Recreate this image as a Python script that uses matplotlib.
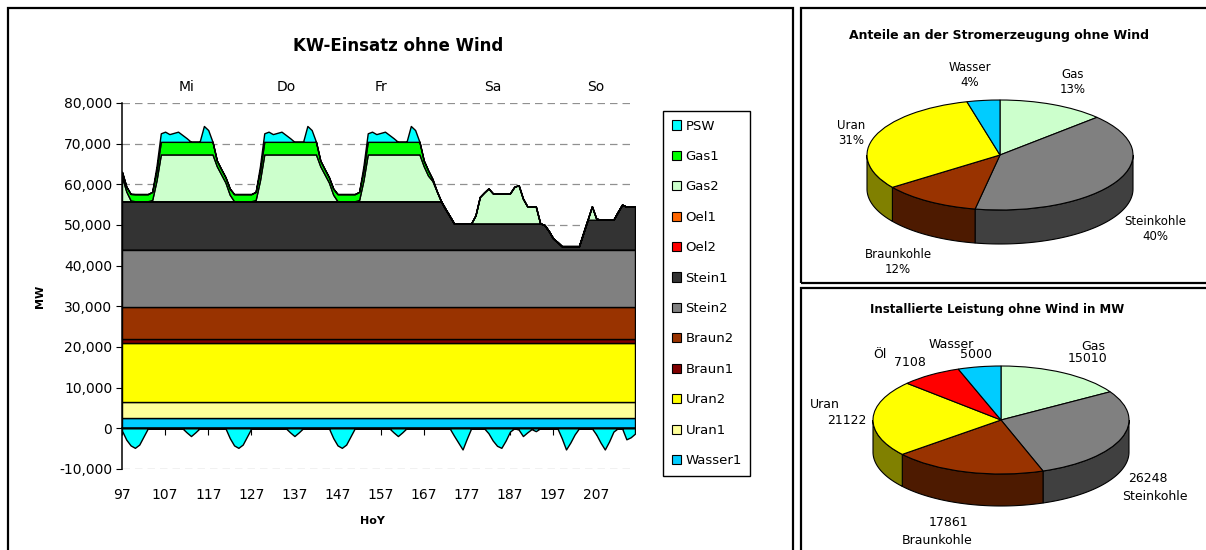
""" KW-Einsatz ohne Wind - stacked area plus two 3D-style pies """

import numpy as np
import matplotlib
matplotlib.use('Agg')
import matplotlib.pyplot as plt
from matplotlib.patches import Patch, Rectangle
from matplotlib.ticker import FuncFormatter, MultipleLocator
from matplotlib.colors import to_rgb

plt.rcParams['font.family'] = ['DejaVu Sans']

# ---- data: hours of year 97..216 (Mi - So) ----
hours = list(range(97, 217))
n = len(hours)

wasser1 = [2600] * n
uran1 = [3900] * n
uran2 = [14400] * n
braun1 = [1100] * n
braun2 = [7800] * n
stein2 = [14150] * n
oel2 = [0] * n
oel1 = [0] * n

stein1 = (
    [11900] * 24 +
    [11900] * 24 +
    [11900] * 24 +
    [11900, 11900, 11900, 10000, 8250, 6450, 6450, 6450, 6450, 6450, 6450, 6450,
     6450, 6450, 6450, 6450, 6450, 6450, 6450, 6450, 6450, 6450, 6450, 6450] +
    [6450, 6450, 6050, 4550, 2750, 1850, 850, 850, 850, 850, 850, 4100,
     7350, 7350, 7350, 7350, 7350, 7350, 7350, 9250, 11050, 10550, 10550, 10550]
)

gas2 = (
    [6000, 2400, 200, 0, 0, 0, 0, 300, 5100, 11500, 11500, 11500,
     11500, 11500, 11500, 11500, 11500, 11500, 11500, 11500, 11500, 11500, 8600, 6600] +
    [4600, 1600, 0, 0, 0, 0, 0, 300, 5100, 11500, 11500, 11500,
     11500, 11500, 11500, 11500, 11500, 11500, 11500, 11500, 11500, 11500, 8600, 6600] +
    [4600, 1600, 0, 0, 0, 0, 0, 300, 5100, 11500, 11500, 11500,
     11500, 11500, 11500, 11500, 11500, 11500, 11500, 11500, 11500, 11500, 8600, 6300] +
    [5000, 2500, 0, 0, 0, 0, 0, 0, 0, 0, 2000, 6500,
     7600, 8600, 7400, 7400, 7400, 7400, 7400, 9000, 9400, 6100, 4200, 4200] +
    [4100, 0, 0, 0, 0, 0, 0, 0, 0, 0, 0, 0,
     0, 3300, 300, 0, 0, 0, 0, 0, 0, 0, 0, 0]
)

gas1 = (
    [1200, 1200, 1600, 1750, 1750, 1750, 1750, 2000, 2400, 3100, 3100, 3100,
     3100, 3100, 3100, 3100, 3100, 3100, 3100, 3100, 3100, 3100, 1400, 1300] +
    [1300, 1500, 1750, 1750, 1750, 1750, 1750, 2000, 2400, 3100, 3100, 3100,
     3100, 3100, 3100, 3100, 3100, 3100, 3100, 3100, 3100, 3100, 1400, 1300] +
    [1300, 1500, 1750, 1750, 1750, 1750, 1750, 2000, 2400, 3100, 3100, 3100,
     3100, 3100, 3100, 3100, 3100, 3100, 3100, 3100, 3100, 3100, 1400, 1300] +
    [500] + [0] * 23 +
    [0] * 24
)

psw = (
    [0, 0, 0, 0, 0, 0, 0, 0, 1100, 2100, 2500, 1900,
     2200, 2500, 1700, 900, 0, 0, 0, 3900, 2900, 0, 0, 0] +
    [0, 0, 0, 0, 0, 0, 0, 0, 1100, 2100, 2500, 1900,
     2200, 2500, 1700, 900, 0, 0, 0, 3900, 2900, 0, 0, 0] +
    [0, 0, 0, 0, 0, 0, 0, 0, 1100, 2100, 2500, 1900,
     2200, 2500, 1700, 900, 0, 0, 0, 3900, 2900, 0, 0, 0] +
    [0] * 24 +
    [0] * 24
)

# pumping (negative PSW)
psw_pump = (
    [-600, -2800, -4200, -4800, -4000, -2000, 0, 0, 0, 0, 0, 0,
     0, 0, 0, -1000, -1900, -1000, 0, 0, 0, 0, 0, 0] +
    [0, -2400, -4200, -4800, -4000, -2000, 0, 0, 0, 0, 0, 0,
     0, 0, 0, -1000, -1900, -1000, 0, 0, 0, 0, 0, 0] +
    [0, -2400, -4200, -4800, -4000, -2000, 0, 0, 0, 0, 0, 0,
     0, 0, 0, -1000, -1900, -1000, 0, 0, 0, 0, 0, 0] +
    [0, 0, 0, 0, 0, -1800, -3500, -5200, -2500, 0, 0, 0,
     0, -1200, -3000, -4300, -4800, -3000, -800, 0, -300, -1900, -1000, -200] +
    [-700, 0, 0, 0, 0, 0, -2400, -5200, -3500, -1500, 0, 0,
     0, 0, -1500, -3500, -5200, -3200, -800, 0, 0, -2700, -2200, -1300]
)

days = ['Mi', 'Do', 'Fr', 'Sa', 'So']
day_pos = [112, 135, 157, 183, 207]

share_names = ['Gas', 'Steinkohle', 'Braunkohle', 'Uran', 'Wasser']
share_values = [13, 40, 12, 31, 4]

cap_names = ['Gas', 'Steinkohle', 'Braunkohle', 'Uran', 'Öl', 'Wasser']
cap_values = [15010, 26248, 17861, 21122, 7108, 5000]

# ---- colours ----
C = {
    'PSW': '#00FFFF', 'Gas1': '#00FF00', 'Gas2': '#CCFFCC', 'Oel1': '#FF6600',
    'Oel2': '#FF0000', 'Stein1': '#333333', 'Stein2': '#808080',
    'Braun2': '#993300', 'Braun1': '#800000', 'Uran2': '#FFFF00',
    'Uran1': '#FFFF99', 'Wasser1': '#00CCFF',
}
pie_colors = {'Gas': '#CCFFCC', 'Steinkohle': '#808080', 'Braunkohle': '#993300',
              'Uran': '#FFFF00', 'Öl': '#FF0000', 'Wasser': '#00CCFF'}

W, H = 1206, 550


def fx(px):
    return px / W


def fy(py):
    return 1 - py / H


fig = plt.figure(figsize=(W / 100, H / 100), dpi=100)

# panel frames
for x0, y0, x1, y1 in [(8, 8, 793, 560), (801, 8, 1215, 283), (801, 288, 1215, 560)]:
    fig.add_artist(Rectangle((fx(x0), fy(y1)), (x1 - x0) / W, (y1 - y0) / H,
                             transform=fig.transFigure, fill=False,
                             edgecolor='black', linewidth=1.6))

# ---- main area chart ----
ax = fig.add_axes([fx(122), fy(469), (635 - 122) / W, (469 - 103) / H])
stack = [wasser1, uran1, uran2, braun1, braun2, stein2, stein1, oel2, oel1, gas2, gas1, psw]
stack_keys = ['Wasser1', 'Uran1', 'Uran2', 'Braun1', 'Braun2', 'Stein2', 'Stein1',
              'Oel2', 'Oel1', 'Gas2', 'Gas1', 'PSW']
ax.stackplot(hours, *stack, colors=[C[k] for k in stack_keys],
             edgecolor='black', linewidth=1.0, zorder=2)
ax.fill_between(hours, 0, psw_pump, facecolor=C['PSW'], edgecolor='black',
                linewidth=1.0, zorder=2)

ax.set_xlim(97, 216)
ax.set_ylim(-10000, 80000)
ax.yaxis.set_major_locator(MultipleLocator(10000))
ax.yaxis.set_major_formatter(FuncFormatter(lambda v, p: f'{v:,.0f}'))
ax.grid(axis='y', color='#909090', linestyle=(0, (6, 4)), linewidth=0.9)
ax.set_axisbelow(True)
for s in ['top', 'right']:
    ax.spines[s].set_visible(False)
ax.spines['bottom'].set_position(('data', 0))
ax.spines['left'].set_linewidth(1.1)
ax.spines['bottom'].set_linewidth(1.1)
ax.set_xticks(range(97, 217, 10))
ax.tick_params(axis='x', direction='out', length=5, labelbottom=False)
ax.tick_params(axis='y', length=4, labelsize=10, pad=3)

sec = ax.secondary_xaxis('bottom')
sec.set_xticks(range(97, 217, 10))
sec.tick_params(length=0, labelsize=10, pad=14)
sec.spines['bottom'].set_visible(False)

for d, p in zip(days, day_pos):
    ax.text(p, 1.045, d, transform=ax.get_xaxis_transform(), ha='center',
            va='center', fontsize=10)

fig.text(fx(398), fy(46), 'KW-Einsatz ohne Wind', ha='center', va='center',
         fontsize=12, fontweight='bold')
fig.text(fx(40), fy(296), 'MW', ha='center', va='center', rotation=90,
         fontsize=8, fontweight='bold')
fig.text(fx(372), fy(521), 'HoY', ha='center', va='center', fontsize=8,
         fontweight='bold')

legend_keys = stack_keys[::-1]
handles = [Patch(facecolor=C[k], edgecolor='black', linewidth=0.8) for k in legend_keys]
leg = fig.legend(handles, legend_keys, loc='upper left',
                 bbox_to_anchor=(fx(663), fy(111)), bbox_transform=fig.transFigure,
                 frameon=True, fancybox=False, edgecolor='black', framealpha=1,
                 borderaxespad=0, fontsize=9.5, handlelength=0.7, handleheight=0.7,
                 handletextpad=0.35, labelspacing=1.32, borderpad=0.65)
leg.get_frame().set_linewidth(1.0)


# ---- 3D-style pies ----
def pie3d(box, cx, cy, rx, ry, depth, values, colors):
    x0, y0, x1, y1 = box
    pax = fig.add_axes([fx(x0), fy(y1), (x1 - x0) / W, (y1 - y0) / H])
    wedges, _ = pax.pie(values, colors=colors, startangle=90, counterclock=False,
                        wedgeprops=dict(edgecolor='black', linewidth=0.8))
    dz = depth / ry
    for w, c in zip(wedges, colors):
        lo, hi = max(w.theta1, -180), min(w.theta2, 0)
        if lo >= hi:
            continue
        t = np.radians(np.linspace(lo, hi, 80))
        xs = np.concatenate([np.cos(t), np.cos(t[::-1])])
        ys = np.concatenate([np.sin(t), np.sin(t[::-1]) - dz])
        side = tuple(v * 0.5 for v in to_rgb(c))
        pax.fill(xs, ys, facecolor=side, edgecolor='black', linewidth=0.8, zorder=0)
    pax.set_aspect('auto')
    pax.set_xlim((x0 - cx) / rx, (x1 - cx) / rx)
    pax.set_ylim(-(y1 - cy) / ry, (cy - y0) / ry)
    pax.axis('off')
    return pax


pie3d((802, 60, 1200, 282), 1000, 155, 133, 55, 34, share_values,
      [pie_colors[k] for k in share_names])
fig.text(fx(999), fy(35), 'Anteile an der Stromerzeugung ohne Wind', ha='center',
         va='center', fontsize=9, fontweight='bold')
share_pos = {'Gas': (1073, 82), 'Steinkohle': (1155, 229), 'Braunkohle': (898, 262),
             'Uran': (851, 133), 'Wasser': (970, 75)}
for name, v in zip(share_names, share_values):
    px, py = share_pos[name]
    fig.text(fx(px), fy(py), f'{name}\n{v}%', ha='center', va='center',
             fontsize=8.5, linespacing=1.25)

pie3d((802, 330, 1200, 548), 1001, 420, 128, 54, 32, cap_values,
      [pie_colors[k] for k in cap_names])
fig.text(fx(997), fy(310), 'Installierte Leistung ohne Wind in MW', ha='center',
         va='center', fontsize=8.5, fontweight='bold')
cap_name_pos = {'Gas': (1093, 347), 'Steinkohle': (1155, 497), 'Braunkohle': (937, 540),
                'Uran': (825, 404), 'Öl': (880, 355), 'Wasser': (951, 345)}
cap_val_pos = {'Gas': (1088, 359), 'Steinkohle': (1148, 478), 'Braunkohle': (948, 522),
               'Uran': (847, 420), 'Öl': (910, 362), 'Wasser': (976, 355)}
for name, v in zip(cap_names, cap_values):
    px, py = cap_name_pos[name]
    fig.text(fx(px), fy(py), name, ha='center', va='center', fontsize=9)
    px, py = cap_val_pos[name]
    fig.text(fx(px), fy(py), str(v), ha='center', va='center', fontsize=9)

fig.savefig('out.png', dpi=100)
